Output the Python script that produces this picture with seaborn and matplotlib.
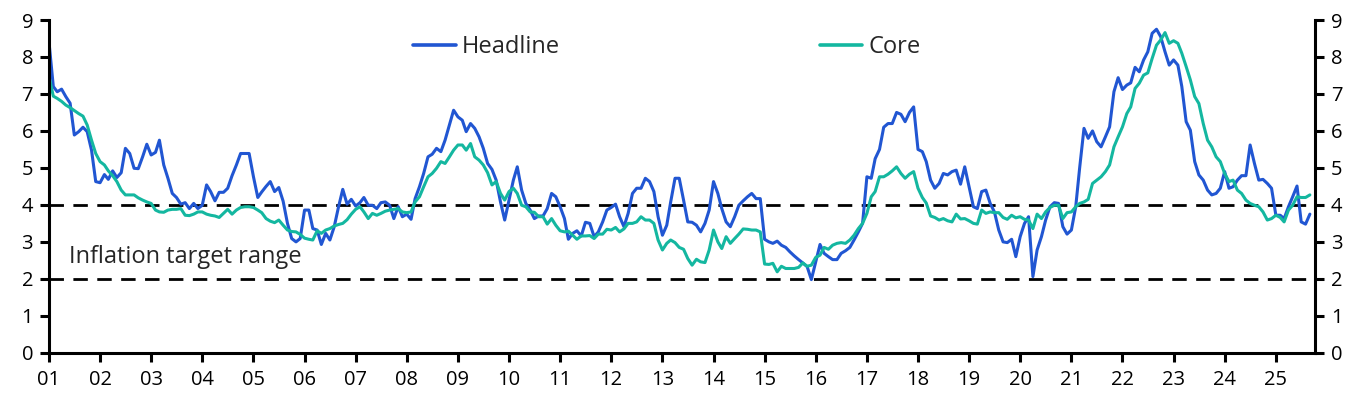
import numpy as np
import pandas as pd
import matplotlib
matplotlib.use("Agg")
import matplotlib.pyplot as plt
import matplotlib.dates as mdates
import seaborn as sns

# monthly y/y inflation (%), Jan 2001 - Sep 2025
headline = [
    8.41, 7.20, 7.06, 7.13, 6.93, 6.75, 5.89, 5.98, 6.10, 5.98, 5.48, 4.63,  # 01
    4.60, 4.82, 4.69, 4.92, 4.74, 4.87, 5.53, 5.39, 4.99, 4.98, 5.30, 5.64,  # 02
    5.35, 5.42, 5.75, 5.08, 4.72, 4.31, 4.20, 4.02, 4.06, 3.90, 4.04, 3.90,  # 03
    3.99, 4.54, 4.36, 4.11, 4.34, 4.34, 4.45, 4.79, 5.08, 5.39, 5.39, 5.39,  # 04
    4.76, 4.20, 4.35, 4.50, 4.63, 4.36, 4.47, 4.10, 3.50, 3.09, 3.00, 3.09,  # 05
    3.86, 3.86, 3.36, 3.32, 2.93, 3.23, 3.05, 3.41, 3.95, 4.42, 4.02, 4.15,  # 06
    3.97, 4.06, 4.20, 3.99, 3.99, 3.90, 4.06, 4.08, 3.99, 3.63, 3.95, 3.68,  # 07
    3.75, 3.61, 4.17, 4.49, 4.85, 5.30, 5.37, 5.53, 5.44, 5.75, 6.16, 6.56,  # 08
    6.38, 6.29, 5.98, 6.20, 6.07, 5.84, 5.53, 5.12, 4.96, 4.67, 4.08, 3.59,  # 09
    4.13, 4.67, 5.03, 4.40, 4.04, 3.86, 3.63, 3.70, 3.70, 3.90, 4.31, 4.22,  # 10
    3.95, 3.63, 3.07, 3.23, 3.30, 3.16, 3.53, 3.50, 3.14, 3.27, 3.54, 3.86,  # 11
    3.93, 4.02, 3.68, 3.41, 3.77, 4.31, 4.45, 4.45, 4.72, 4.63, 4.36, 3.68,  # 12
    3.18, 3.45, 4.08, 4.72, 4.72, 4.13, 3.54, 3.53, 3.45, 3.27, 3.50, 3.86,  # 13
    4.63, 4.31, 3.90, 3.54, 3.41, 3.68, 3.99, 4.11, 4.22, 4.31, 4.17, 4.17,  # 14
    3.07, 3.00, 2.96, 3.02, 2.91, 2.85, 2.73, 2.62, 2.52, 2.43, 2.33, 1.98,  # 15
    2.46, 2.93, 2.69, 2.60, 2.52, 2.52, 2.69, 2.76, 2.85, 3.05, 3.27, 3.50,  # 16
    4.76, 4.72, 5.25, 5.50, 6.10, 6.20, 6.20, 6.50, 6.45, 6.25, 6.50, 6.65,  # 17
    5.50, 5.44, 5.17, 4.67, 4.45, 4.58, 4.85, 4.81, 4.90, 4.94, 4.56, 5.03,  # 18
    4.49, 3.95, 3.90, 4.36, 4.40, 4.04, 3.81, 3.32, 3.00, 2.98, 3.07, 2.60,  # 19
    3.14, 3.50, 3.68, 2.06, 2.78, 3.14, 3.59, 3.95, 4.06, 4.04, 3.41, 3.21,  # 20
    3.32, 3.95, 5.00, 6.07, 5.80, 6.00, 5.71, 5.57, 5.84, 6.11, 7.06, 7.44,  # 21
    7.12, 7.24, 7.30, 7.72, 7.60, 7.92, 8.14, 8.64, 8.75, 8.55, 8.14, 7.78,  # 22
    7.92, 7.78, 7.20, 6.25, 6.02, 5.17, 4.81, 4.67, 4.40, 4.27, 4.31, 4.45,  # 23
    4.90, 4.45, 4.49, 4.67, 4.79, 4.79, 5.62, 5.12, 4.67, 4.69, 4.58, 4.45,  # 24
    3.72, 3.72, 3.63, 3.95, 4.22, 4.51, 3.54, 3.48, 3.75,                    # 25
]

core = [
    7.47, 6.94, 6.88, 6.80, 6.70, 6.63, 6.55, 6.47, 6.40, 6.16, 5.75, 5.39,  # 01
    5.17, 5.08, 4.92, 4.79, 4.63, 4.40, 4.27, 4.27, 4.27, 4.19, 4.13, 4.08,  # 02
    4.04, 3.86, 3.81, 3.80, 3.86, 3.88, 3.88, 3.90, 3.72, 3.71, 3.75, 3.81,  # 03
    3.81, 3.75, 3.72, 3.70, 3.66, 3.77, 3.88, 3.75, 3.86, 3.93, 3.95, 3.95,  # 04
    3.93, 3.86, 3.79, 3.63, 3.56, 3.52, 3.59, 3.45, 3.32, 3.28, 3.27, 3.20,  # 05
    3.10, 3.07, 3.05, 3.30, 3.23, 3.32, 3.36, 3.43, 3.47, 3.50, 3.60, 3.75,  # 06
    3.88, 3.95, 3.81, 3.63, 3.77, 3.72, 3.77, 3.83, 3.86, 3.88, 3.90, 3.81,  # 07
    3.79, 3.81, 4.08, 4.22, 4.49, 4.76, 4.85, 4.99, 5.17, 5.12, 5.30, 5.48,  # 08
    5.62, 5.62, 5.48, 5.66, 5.30, 5.21, 5.08, 4.87, 4.54, 4.63, 4.31, 4.13,  # 09
    4.36, 4.45, 4.31, 3.99, 3.95, 3.81, 3.80, 3.68, 3.68, 3.48, 3.63, 3.45,  # 10
    3.30, 3.27, 3.29, 3.18, 3.07, 3.16, 3.16, 3.17, 3.09, 3.21, 3.21, 3.34,  # 11
    3.32, 3.39, 3.27, 3.35, 3.50, 3.50, 3.54, 3.68, 3.59, 3.59, 3.50, 3.05,  # 12
    2.78, 2.96, 3.05, 2.98, 2.85, 2.80, 2.55, 2.37, 2.53, 2.46, 2.44, 2.78,  # 13
    3.32, 3.00, 2.82, 3.14, 2.96, 3.09, 3.21, 3.35, 3.34, 3.32, 3.32, 3.27,  # 14
    2.40, 2.39, 2.42, 2.19, 2.34, 2.28, 2.28, 2.28, 2.31, 2.43, 2.34, 2.37,  # 15
    2.58, 2.64, 2.85, 2.80, 2.91, 2.96, 2.98, 2.96, 3.05, 3.18, 3.36, 3.50,  # 16
    3.77, 4.22, 4.36, 4.76, 4.76, 4.83, 4.92, 5.03, 4.85, 4.72, 4.83, 4.90,  # 17
    4.45, 4.20, 4.05, 3.70, 3.66, 3.59, 3.63, 3.57, 3.54, 3.75, 3.62, 3.63,  # 18
    3.57, 3.50, 3.48, 3.86, 3.77, 3.81, 3.79, 3.79, 3.66, 3.61, 3.72, 3.65,  # 19
    3.68, 3.61, 3.59, 3.36, 3.75, 3.63, 3.81, 3.93, 3.99, 3.99, 3.63, 3.79,  # 20
    3.81, 3.95, 4.04, 4.08, 4.15, 4.58, 4.67, 4.76, 4.90, 5.08, 5.57, 5.84,  # 21
    6.11, 6.47, 6.65, 7.15, 7.29, 7.51, 7.57, 7.96, 8.32, 8.46, 8.66, 8.37,  # 22
    8.44, 8.37, 8.10, 7.74, 7.38, 6.93, 6.74, 6.20, 5.75, 5.57, 5.30, 5.17,  # 23
    4.85, 4.63, 4.67, 4.40, 4.31, 4.13, 4.04, 3.99, 3.95, 3.81, 3.59, 3.63,  # 24
    3.72, 3.66, 3.54, 3.86, 3.99, 4.22, 4.20, 4.20, 4.27,                    # 25
]

target_band = [2, 4]
band_label = "Inflation target range"
years = list(range(2001, 2026))
year_labels = [f"{y % 100:02d}" for y in years]

dates = pd.date_range("2001-01-01", periods=len(headline), freq="MS")
df = pd.DataFrame({"date": dates, "Headline": headline, "Core": core})
df = df.melt(id_vars="date", var_name="series", value_name="value")

sns.set_style("white")
plt.rcParams["font.family"] = ["Open Sans", "DejaVu Sans"]

fig = plt.figure(figsize=(13.72, 4.01), dpi=100)
ax = fig.add_axes([0.0357, 0.1202, 0.9228, 0.8299])

sns.lineplot(data=df, x="date", y="value", hue="series",
             palette={"Headline": "#2156d2", "Core": "#14b7a0"},
             linewidth=2.2, ax=ax)

for lvl in target_band:
    ax.axhline(lvl, color="black", lw=2, dashes=(5.2, 3.4), zorder=1)

# label sits just above the lower dashed line
ax.text(0.0158, 0.287, band_label, transform=ax.transAxes,
        fontsize=17, va="center", ha="left")

ax.set_ylim(0, 9)
ax.set_yticks(range(0, 10))
ax.set_xlim(pd.Timestamp("2001-01-01"), pd.Timestamp("2025-10-08"))
ax.set_xticks([pd.Timestamp(f"{y}-01-01") for y in years])
ax.set_xticklabels(year_labels)
ax.set_xlabel("")
ax.set_ylabel("")

for side in ["left", "right", "bottom"]:
    ax.spines[side].set_visible(True)
    ax.spines[side].set_color("black")
    ax.spines[side].set_linewidth(2.2)
ax.spines["top"].set_visible(False)

ax.tick_params(axis="both", direction="out", length=6.5, width=2.2,
               labelsize=14.5, colors="black")
ax.tick_params(axis="y", left=True, right=True, labelleft=True, labelright=True, pad=5)
ax.tick_params(axis="x", bottom=True, pad=6)

leg = ax.legend(ncol=2, loc="center", bbox_to_anchor=(0.488, 0.918),
                frameon=False, fontsize=17, handlelength=1.8,
                handletextpad=0.25, columnspacing=11.0)
for line in leg.get_lines():
    line.set_linewidth(2.6)

fig.savefig("out.png", dpi=100)
